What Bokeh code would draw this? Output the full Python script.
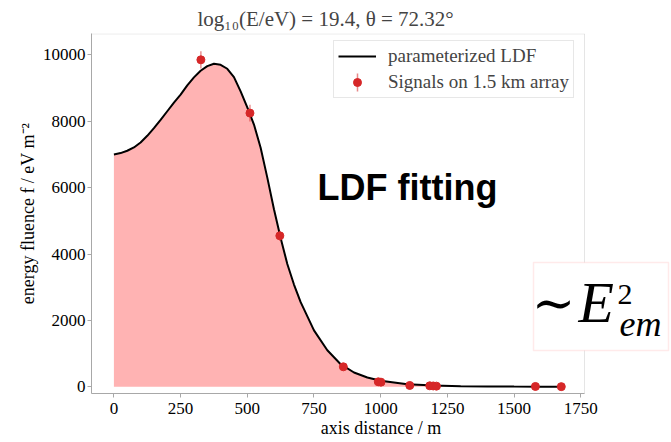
import numpy as np
from bokeh.plotting import figure
from bokeh.models import (Range1d, FixedTicker, Legend, LegendItem, Label,
                          BoxAnnotation, PolyAnnotation)
from bokeh.embed import file_html
from bokeh.resources import INLINE

# ---- data ----
ldf_x = [0, 25, 50, 75, 100, 125, 150, 175, 200, 225, 250, 275, 300, 325, 350,
         375, 400, 425, 450, 475, 500, 525, 550, 575, 600, 625, 650, 675, 700,
         750, 800, 850, 900, 950, 1000, 1100, 1200, 1300, 1400, 1500, 1600, 1680]
ldf_y = [7000, 7040, 7110, 7210, 7360, 7560, 7790, 8040, 8300, 8560, 8800, 9080,
         9320, 9520, 9660, 9730, 9700, 9580, 9330, 8900, 8420, 7900, 7200, 6300,
         5350, 4480, 3700, 3080, 2550, 1700, 1100, 680, 430, 280, 180, 80, 38,
         20, 11, 7, 5, 3]

sig_x = [326, 510, 622, 860, 991, 1001, 1109, 1184, 1197, 1209, 1580, 1677]
sig_y = [9849, 8244, 4548, 602, 150, 140, 40, 30, 25, 20, 10, 5]
sig_err = [260, 250, 150, 60, 40, 40, 20, 15, 15, 15, 10, 10]

x_ticks = [0, 250, 500, 750, 1000, 1250, 1500, 1750]
y_ticks = [0, 2000, 4000, 6000, 8000, 10000]

# axis limits (as in the reference)
X_LO, X_HI = -84, 1764
Y_LO, Y_HI = -202, 10642

SERIF = "Liberation Serif"
RED = "#d62728"
GREY = "#a8a8a8"

# layout: axes box is 493 px wide; the drawing frame is extended to the right
# so that the "~E_em^2" box can hang over the right spine
W, H = 671, 442
LEFT, TOP, BOTTOM = 91, 33, 49
AXES_W = 493
FRAME_W = W - LEFT - 1
x_view_end = X_LO + FRAME_W * (X_HI - X_LO) / AXES_W
FB = H - BOTTOM  # canvas y of the frame bottom


def px_to_x(px):
    return X_LO + (px - LEFT) * (X_HI - X_LO) / AXES_W


def py_to_y(py):
    return Y_LO + (FB - py) * (Y_HI - Y_LO) / (FB - TOP)


p = figure(width=W, height=H, output_backend="svg", toolbar_location=None,
           x_range=Range1d(X_LO, x_view_end), y_range=Range1d(Y_LO, Y_HI),
           min_border_left=LEFT, min_border_right=1, min_border_top=TOP,
           min_border_bottom=BOTTOM,
           title="log\u2081\u2080(E/eV) = 19.4, \u03b8 = 72.32\u00b0")

p.title.text_font = SERIF
p.title.text_font_size = "21px"
p.title.text_font_style = "normal"
p.title.align = "left"
p.title.offset = 106
p.title.standoff = 5

p.grid.visible = False
p.outline_line_color = None
p.background_fill_color = "white"
p.border_fill_color = "white"

for ax in (p.xaxis[0], p.yaxis[0]):
    ax.axis_line_color = GREY
    ax.major_tick_line_color = GREY
    ax.minor_tick_line_color = None
    ax.major_tick_out = 4
    ax.major_tick_in = 0
    ax.major_label_text_font = SERIF
    ax.major_label_text_font_size = "17px"
    ax.major_label_text_color = "black"
    ax.axis_label_text_font = SERIF
    ax.axis_label_text_font_size = "18px"
    ax.axis_label_text_font_style = "normal"
    ax.axis_label_text_color = "black"

p.xaxis.major_label_standoff = 5
p.xaxis.axis_label_standoff = 1
p.yaxis.major_label_standoff = 2
p.yaxis.axis_label_standoff = 2
p.xaxis.bounds = (X_LO, X_HI)

p.xaxis.ticker = FixedTicker(ticks=x_ticks)
p.yaxis.ticker = FixedTicker(ticks=y_ticks)
p.xaxis.axis_label = "axis distance / m"
p.yaxis.axis_label = "energy fluence f / eV m\u207b\u00b2"

# top and right spines of the axes box
p.add_layout(BoxAnnotation(left=X_LO, right=X_HI, bottom=Y_LO, top=Y_HI - 12,
                           fill_alpha=0, line_color=GREY, line_width=1))

# vertical error-bar sample for the legend (legend background is transparent)
ex = px_to_x(357)
p.add_layout(PolyAnnotation(xs=[ex, ex], ys=[py_to_y(91), py_to_y(73)],
                            fill_alpha=0, line_color=RED, line_alpha=0.55,
                            line_width=1.5))

# fill under LDF
p.varea(x=ldf_x, y1=0, y2=ldf_y, fill_color="#ffb3b3")
line_r = p.line(ldf_x, ldf_y, line_color="black", line_width=2)

sx = np.array(sig_x, dtype=float)
sy = np.array(sig_y, dtype=float)
se = np.array(sig_err, dtype=float)
err_r = p.segment(x0=sx, y0=sy - se, x1=sx, y1=sy + se,
                  line_color=RED, line_alpha=0.5, line_width=1.5)
pts_r = p.scatter(sx, sy, size=8, color=RED)

legend = Legend(items=[
    LegendItem(label="parameterized LDF", renderers=[line_r]),
    LegendItem(label="Signals on 1.5 km array", renderers=[pts_r]),
], location=(333 - LEFT, FB - 98))
legend.margin = 0
legend.padding = 4
legend.spacing = 4
legend.glyph_width = 38
legend.glyph_height = 20
legend.label_height = 20
legend.label_standoff = 12
legend.label_text_font = SERIF
legend.label_text_font_size = "19px"
legend.border_line_color = "#d0d0d0"
legend.background_fill_alpha = 0.0
p.add_layout(legend)

# annotation text (text_baseline "bottom": bottom = baseline + descent)
p.add_layout(Label(x=317 - LEFT, y=FB - 207.5, x_units="screen",
                   y_units="screen", text="LDF fitting",
                   text_font="Liberation Sans", text_font_style="bold",
                   text_font_size="36px", text_color="black",
                   text_baseline="bottom"))

p.add_layout(BoxAnnotation(left=533 - LEFT, right=668 - LEFT,
                           bottom=FB - 350, top=FB - 262,
                           left_units="screen", right_units="screen",
                           bottom_units="screen", top_units="screen",
                           fill_color="white", fill_alpha=1.0,
                           line_color="#ffb8b8", line_width=1.5))
p.add_layout(Label(x=553 - LEFT, y=FB - 302, x_units="screen",
                   y_units="screen", text="\u223c", text_align="center",
                   text_baseline="middle", text_font="DejaVu Serif",
                   text_font_size="52px", text_color="black"))
p.add_layout(Label(x=578 - LEFT, y=FB - 334.5, x_units="screen",
                   y_units="screen", text="E", text_font=SERIF,
                   text_font_style="italic", text_font_size="58px",
                   text_color="black", text_baseline="bottom"))
p.add_layout(Label(x=617 - LEFT, y=FB - 303, x_units="screen",
                   y_units="screen", text="2", text_font=SERIF,
                   text_font_size="30px", text_color="black",
                   text_baseline="bottom"))
p.add_layout(Label(x=619 - LEFT, y=FB - 343.8, x_units="screen",
                   y_units="screen", text="em", text_font=SERIF,
                   text_font_style="italic", text_font_size="36px",
                   text_color="black", text_baseline="bottom"))

open("out.html", "w").write(file_html(p, INLINE))
